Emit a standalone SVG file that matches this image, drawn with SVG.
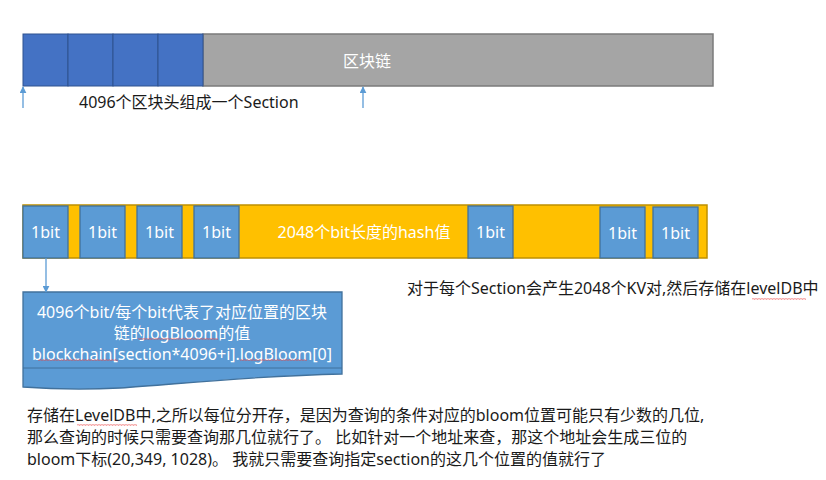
<svg xmlns="http://www.w3.org/2000/svg" width="826" height="480" viewBox="0 0 826 480">
<defs>
<style>
text{font-family:"Noto Sans","Noto Sans CJK SC","Microsoft YaHei",sans-serif;font-size:16px}
.w{fill:#ffffff}
.k{fill:#1a1a1a}
.hdr{fill:#4472C4;stroke:#2F528F;stroke-width:1}
.gray{fill:#A5A5A5;stroke:#7B7B7B;stroke-width:1.5}
.yel{fill:#FFC000;stroke:#BF9000;stroke-width:1.5}
.bit{fill:#5B9BD5;stroke:#41719C;stroke-width:1.3}
.ln{stroke:#5B9BD5;stroke-width:1.3;fill:none}
</style>
<marker id="ah" viewBox="0 0 10 10" refX="9" refY="5" markerWidth="7" markerHeight="7" orient="auto" markerUnits="userSpaceOnUse">
<path d="M0,0 L10,5 L0,10 z" fill="#5B9BD5"/>
</marker>
<pattern id="wave" width="3" height="2" patternUnits="userSpaceOnUse">
<path d="M0,1.6 L0.75,0.4 L1.5,1.6 L2.25,0.4 L3,1.6" stroke="#e84040" stroke-width="0.5" fill="none"/>
</pattern>
</defs>

<g id="blockchain">
<rect class="gray" x="203" y="34" width="510" height="52"/>
<rect class="hdr" x="23" y="34" width="45" height="52"/>
<rect class="hdr" x="68" y="34" width="45" height="52"/>
<rect class="hdr" x="113" y="34" width="45" height="52"/>
<rect class="hdr" x="158" y="34" width="45" height="52"/>
<text class="w" x="367" y="67" text-anchor="middle">区块链</text>
</g>

<g id="section-label">
<text class="k" x="79" y="108">4096个区块头组成一个Section</text>
</g>

<g id="bloom-bar">
<rect class="yel" x="23" y="205" width="684" height="53"/>
<rect class="bit" x="23" y="206" width="45" height="52"/>
<rect class="bit" x="80" y="206" width="45" height="52"/>
<rect class="bit" x="137" y="206" width="45" height="52"/>
<rect class="bit" x="194" y="206" width="45" height="52"/>
<rect class="bit" x="468" y="206" width="45" height="52"/>
<rect class="bit" x="600" y="207" width="45" height="51"/>
<rect class="bit" x="653" y="207" width="45" height="51"/>
<text class="w" x="45.5" y="238" text-anchor="middle">1bit</text>
<text class="w" x="102.5" y="238" text-anchor="middle">1bit</text>
<text class="w" x="159.5" y="238" text-anchor="middle">1bit</text>
<text class="w" x="216.5" y="238" text-anchor="middle">1bit</text>
<text class="w" x="364" y="238" text-anchor="middle">2048个bit长度的hash值</text>
<text class="w" x="490.5" y="238" text-anchor="middle">1bit</text>
<text class="w" x="622.5" y="239" text-anchor="middle">1bit</text>
<text class="w" x="675.5" y="239" text-anchor="middle">1bit</text>
</g>

<g id="kv-note">
<text class="k" x="407" y="294">对于每个Section会产生2048个KV对,然后存储在levelDB中</text>
<rect x="752" y="298" width="54" height="2" fill="url(#wave)"/>
</g>

<g id="bit-doc">
<path class="bit" d="M23,292 L342,292 L342,374 C250,376 180,384 120,388 C80,390 50,389 23,387 Z"/>
<line x1="23" y1="368" x2="342" y2="368" stroke="#41719C" stroke-width="1"/>
<text class="w" x="182" y="318" text-anchor="middle">4096个bit/每个bit代表了对应位置的区块</text>
<text class="w" x="182" y="339" text-anchor="middle">链的logBloom的值</text>
<text class="w" x="182" y="360" text-anchor="middle">blockchain[section*4096+i].logBloom[0]</text>
<rect x="138" y="338" width="80" height="2" fill="url(#wave)"/>
<rect x="38" y="359" width="80" height="2" fill="url(#wave)"/>
<rect x="240" y="359" width="67" height="2" fill="url(#wave)"/>
</g>

<g id="desc">
<text class="k" x="27" y="421">存储在LevelDB中,之所以每位分开存，是因为查询的条件对应的bloom位置可能只有少数的几位,</text>
<text class="k" x="27" y="443">那么查询的时候只需要查询那几位就行了。 比如针对一个地址来查，那这个地址会生成三位的</text>
<text class="k" x="27" y="465">bloom下标(20,349, 1028)。 我就只需要查询指定section的这几个位置的值就行了</text>
<rect x="77" y="424" width="60" height="2" fill="url(#wave)"/>
</g>

<g id="connectors">
<line class="ln" x1="23" y1="108" x2="23" y2="87" marker-end="url(#ah)"/>
<line class="ln" x1="363" y1="108" x2="363" y2="87" marker-end="url(#ah)"/>
<line class="ln" x1="46" y1="258" x2="46" y2="292" marker-end="url(#ah)"/>
</g>
</svg>
